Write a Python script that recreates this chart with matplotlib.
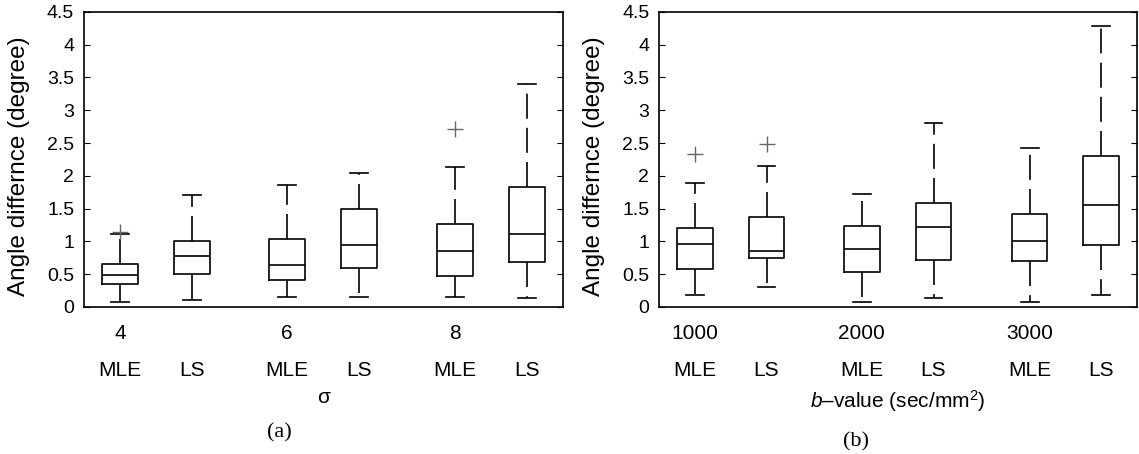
import matplotlib.pyplot as plt
import matplotlib.transforms as mtransforms

plt.rcParams['font.family'] = ['Liberation Sans', 'DejaVu Sans']
plt.rcParams['mathtext.fontset'] = 'custom'
plt.rcParams['mathtext.rm'] = 'Liberation Sans'
plt.rcParams['mathtext.it'] = 'Liberation Sans:italic'

# box positions (two methods per group)
positions = [1, 2, 3.33, 4.33, 5.67, 6.67]
methods = ['MLE', 'LS', 'MLE', 'LS', 'MLE', 'LS']

# (a) sigma groups
sigma_groups = ['4', '6', '8']
a_low = [0.08, 0.11, 0.15, 0.15, 0.15, 0.13]
a_q1 = [0.35, 0.50, 0.41, 0.60, 0.47, 0.69]
a_med = [0.49, 0.78, 0.64, 0.95, 0.85, 1.11]
a_q3 = [0.66, 1.00, 1.04, 1.50, 1.26, 1.83]
a_high = [1.12, 1.71, 1.86, 2.05, 2.14, 3.40]
a_fliers = [[1.15], [], [], [], [2.72], []]

# (b) b-value groups
b_groups = ['1000', '2000', '3000']
b_low = [0.18, 0.31, 0.08, 0.14, 0.08, 0.19]
b_q1 = [0.58, 0.75, 0.53, 0.71, 0.70, 0.95]
b_med = [0.96, 0.86, 0.89, 1.22, 1.00, 1.56]
b_q3 = [1.20, 1.37, 1.24, 1.58, 1.42, 2.31]
b_high = [1.89, 2.15, 1.73, 2.81, 2.42, 4.29]
b_fliers = [[2.34], [2.48], [], [], [], []]


def make_stats(low, q1, med, q3, high, fliers):
    stats = []
    for i in range(len(med)):
        stats.append({'whislo': low[i], 'q1': q1[i], 'med': med[i],
                      'q3': q3[i], 'whishi': high[i], 'fliers': fliers[i]})
    return stats


def draw_panel(ax, stats, groups, xlabel, xlabel_y):
    ax.bxp(stats, positions=positions, widths=0.5, showfliers=True,
           boxprops=dict(color='black', linewidth=1.2),
           medianprops=dict(color='black', linewidth=1.2),
           whiskerprops=dict(color='black', linewidth=1.2, linestyle=(0, (15, 5.5))),
           capprops=dict(color='black', linewidth=1.2),
           capwidths=0.25,
           flierprops=dict(marker='+', markeredgecolor='#666666',
                           markersize=11.5, markeredgewidth=1.0))
    ax.set_xlim(0.5, 7.17)
    ax.set_ylim(0, 4.5)
    ax.set_yticks([0, 0.5, 1, 1.5, 2, 2.5, 3, 3.5, 4, 4.5])
    ax.set_yticklabels(['0', '0.5', '1', '1.5', '2', '2.5', '3', '3.5', '4', '4.5'])
    ax.tick_params(axis='y', direction='in', right=True, length=4, labelsize=14, pad=7)
    ax.set_xticks(positions)
    ax.set_xticklabels(methods)
    ax.tick_params(axis='x', length=0, labelsize=15, pad=39)
    for sp in ax.spines.values():
        sp.set_linewidth(1.2)
    ax.set_ylabel('Angle differnce (degree)', fontsize=17.5, va='center')
    ax.yaxis.set_label_coords(-0.135, 0.478)
    trans = mtransforms.blended_transform_factory(ax.transData, ax.transAxes)
    for i, g in enumerate(groups):
        ax.text(positions[2 * i], -0.09, g, transform=trans, ha='center',
                va='center', fontsize=15)
    ax.text(0.5, xlabel_y, xlabel, transform=ax.transAxes, ha='center',
            va='center', fontsize=15)


fig = plt.figure(figsize=(11.39, 4.54), dpi=100)
ax1 = fig.add_axes([0.0737, 0.3238, 0.4206, 0.650])
ax2 = fig.add_axes([0.5786, 0.3238, 0.4197, 0.650])

draw_panel(ax1, make_stats(a_low, a_q1, a_med, a_q3, a_high, a_fliers),
           sigma_groups, 'σ', -0.308)
draw_panel(ax2, make_stats(b_low, b_q1, b_med, b_q3, b_high, b_fliers),
           b_groups, r'$b$–value (sec/mm$^2$)', -0.318)

# panel captions
fig.text(0.245, 1 - 433 / 454, '(a)', ha='center', va='center', fontsize=16,
         family='Liberation Serif')
fig.text(0.7515, 1 - 442 / 454, '(b)', ha='center', va='center', fontsize=16,
         family='Liberation Serif')

fig.savefig('out.png', dpi=100)
